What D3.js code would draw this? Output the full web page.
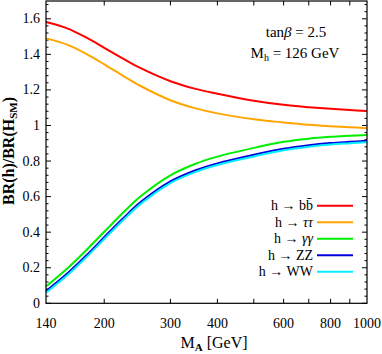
<!DOCTYPE html>
<html lang="en">
<head>
    <meta charset="UTF-8">
    <title>BR ratio vs MA</title>
    <script src="https://d3js.org/d3.v7.min.js"></script>
    <style>
        body { margin: 0; background: #fff; }
        svg { display: block; font-family: "Liberation Serif", "DejaVu Serif", serif; }
    </style>
</head>
<body>
    <svg width="382" height="354"></svg>
    <script>
        const masses = [140, 160, 180, 200, 225, 250, 300, 350, 400, 500, 600, 700, 800, 900, 1000];
        const brBB   = [1.582, 1.545, 1.492, 1.437, 1.375, 1.322, 1.249, 1.206, 1.179, 1.139, 1.116, 1.103, 1.094, 1.087, 1.082];
        const brTT   = [1.49, 1.453, 1.40, 1.344, 1.278, 1.222, 1.142, 1.096, 1.068, 1.035, 1.017, 1.004, 0.996, 0.99, 0.985];
        const brGG   = [0.095, 0.199, 0.303, 0.402, 0.512, 0.602, 0.720, 0.785, 0.825, 0.874, 0.908, 0.926, 0.936, 0.942, 0.947];
        const brZZ   = [0.069, 0.17, 0.273, 0.372, 0.48, 0.569, 0.685, 0.748, 0.787, 0.835, 0.869, 0.889, 0.901, 0.908, 0.914];
        const brWW   = [0.059, 0.16, 0.263, 0.362, 0.47, 0.559, 0.676, 0.739, 0.778, 0.826, 0.861, 0.881, 0.893, 0.90, 0.906];

        const xTickLabels = [140, 200, 300, 400, 600, 800, 1000];
        const xTicksAll = [200, 300, 400, 500, 600, 700, 800, 900];
        const yTickLabels = [0, 0.2, 0.4, 0.6, 0.8, 1, 1.2, 1.4, 1.6];

        const series = [
            {name: "bb", values: brBB, color: "#ff0000"},
            {name: "tt", values: brTT, color: "#ffa500"},
            {name: "gg", values: brGG, color: "#00ee00"},
            {name: "ZZ", values: brZZ, color: "#0000dd"},
            {name: "WW", values: brWW, color: "#00eeff"}
        ];

        const svg = d3.select("svg");
        const pLeft = 46, pRight = 367, pTop = 1, pBottom = 303.3;

        const x = d3.scaleLog().domain([140, 1000]).range([pLeft, pRight]);
        const y = d3.scaleLinear().domain([0, 1.7]).range([pBottom, pTop]);

        // minor y ticks every 0.04
        const yMinor = d3.range(0, 1.7001, 0.04);

        const ticks = svg.append("g").attr("stroke", "#000").attr("stroke-width", 1);
        yMinor.forEach(v => {
            const major = yTickLabels.some(t => Math.abs(t - v) < 1e-6);
            const len = major ? 5 : 2.5;
            ticks.append("line").attr("x1", pLeft).attr("x2", pLeft + len).attr("y1", y(v)).attr("y2", y(v));
            ticks.append("line").attr("x1", pRight).attr("x2", pRight - len).attr("y1", y(v)).attr("y2", y(v));
        });
        xTicksAll.forEach(v => {
            ticks.append("line").attr("x1", x(v)).attr("x2", x(v)).attr("y1", pBottom).attr("y2", pBottom - 4.5);
            ticks.append("line").attr("x1", x(v)).attr("x2", x(v)).attr("y1", pTop).attr("y2", pTop + 4.5);
        });

        // curves
        const line = d3.line()
            .x((d, i) => x(masses[i]))
            .y(d => y(d))
            .curve(d3.curveCatmullRom.alpha(0.5));

        svg.append("g").selectAll("path")
            .data(series)
            .join("path")
            .attr("fill", "none")
            .attr("stroke", d => d.color)
            .attr("stroke-width", 2)
            .attr("d", d => line(d.values));

        // frame
        svg.append("rect")
            .attr("x", pLeft).attr("y", pTop)
            .attr("width", pRight - pLeft).attr("height", pBottom - pTop)
            .attr("fill", "none").attr("stroke", "#000").attr("stroke-width", 1.2);

        // tick labels
        svg.append("g").selectAll("text")
            .data(yTickLabels)
            .join("text")
            .attr("x", 40)
            .attr("y", d => y(d) + 4.5)
            .attr("text-anchor", "end")
            .attr("font-size", 14)
            .text(d => d);

        svg.append("g").selectAll("text")
            .data(xTickLabels)
            .join("text")
            .attr("x", d => x(d))
            .attr("y", 328)
            .attr("text-anchor", "middle")
            .attr("font-size", 14)
            .text(d => d);

        // axis titles
        const xt = svg.append("text").attr("x", 214).attr("y", 348).attr("text-anchor", "middle").attr("font-size", 16);
        xt.append("tspan").text("M");
        xt.append("tspan").attr("font-size", 11).attr("font-weight", "bold").attr("dy", 3).text("A");
        xt.append("tspan").attr("dy", -3).text(" [GeV]");

        const yt = svg.append("text")
            .attr("transform", "translate(14,151) rotate(-90)")
            .attr("text-anchor", "middle")
            .attr("font-size", 16)
            .attr("font-weight", "bold");
        yt.append("tspan").text("BR(h)/BR(H");
        yt.append("tspan").attr("font-size", 11).attr("dy", 3).text("SM");
        yt.append("tspan").attr("dy", -3).text(")");

        // annotation
        const a1 = svg.append("text").attr("x", 296).attr("y", 37).attr("text-anchor", "middle").attr("font-size", 15);
        a1.append("tspan").text("tan");
        a1.append("tspan").attr("font-style", "italic").text("β");
        a1.append("tspan").text(" = 2.5");
        const a2 = svg.append("text").attr("x", 295).attr("y", 58).attr("text-anchor", "middle").attr("font-size", 15);
        a2.append("tspan").text("M");
        a2.append("tspan").attr("font-size", 10).attr("dy", 3).text("h");
        a2.append("tspan").attr("dy", -3).text(" = 126 GeV");

        // legend
        const legendLabels = [
            ["h → b", "b̄"],
            ["h → ", "ττ"],
            ["h → ", "γγ"],
            ["h → ZZ", ""],
            ["h → WW", ""]
        ];
        const leg = svg.append("g");
        series.forEach((s, i) => {
            const ly = 205.7 + i * 16.5;
            const t = leg.append("text").attr("x", 313).attr("y", ly + 4.5).attr("text-anchor", "end").attr("font-size", 14);
            t.append("tspan").text(legendLabels[i][0]);
            if (legendLabels[i][1]) {
                t.append("tspan").attr("font-style", i === 0 ? "normal" : "italic").text(legendLabels[i][1]);
            }
            leg.append("line")
                .attr("x1", 317).attr("x2", 353)
                .attr("y1", ly).attr("y2", ly)
                .attr("stroke", s.color).attr("stroke-width", 2);
        });
    </script>
</body>
</html>
